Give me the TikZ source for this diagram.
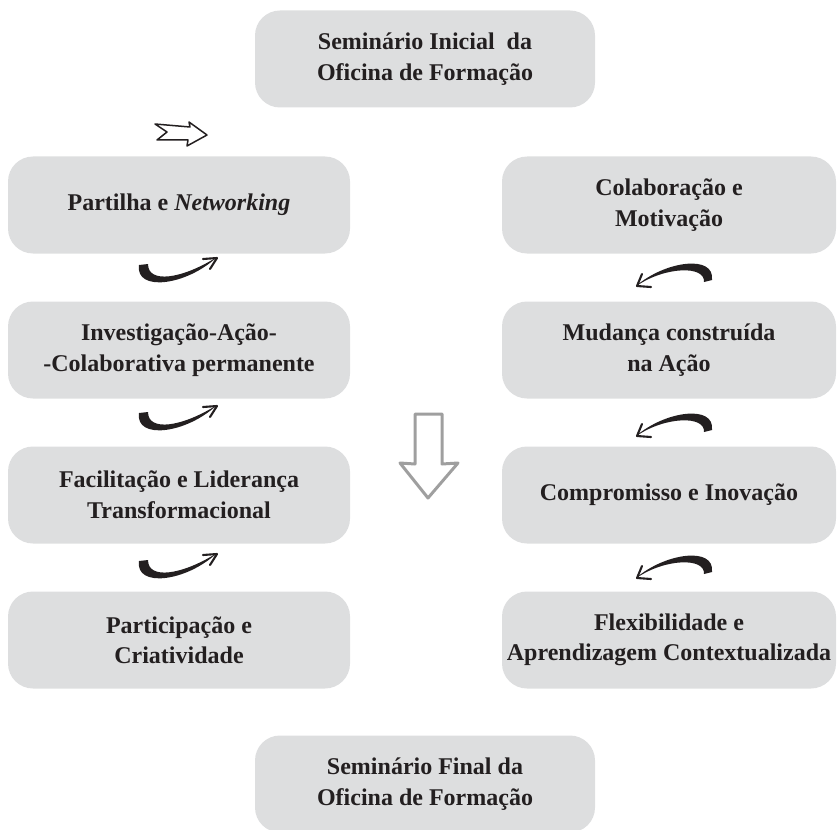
\documentclass[tikz,border=0pt]{standalone}
\usepackage{fontspec}
\setmainfont{Liberation Serif}
\usepackage{xcolor}
\usepackage{tikz}
\usetikzlibrary{positioning}
\definecolor{boxgray}{RGB}{221,222,223}
\definecolor{ink}{RGB}{35,31,32}
\tikzset{
  stage/.style={fill=boxgray, rounded corners=25pt, align=center, inner sep=0pt,
    minimum height=97pt, text=ink, font=\fontsize{24}{30.5}\selectfont\bfseries},
  leftstage/.style={stage, minimum width=342pt},
  rightstage/.style={stage, minimum width=334pt},
  headline/.style={draw=ink, line width=2.1pt, line cap=round, line join=round},
}

\begin{document}
\begin{tikzpicture}[x=1pt,y=-1pt]
    \useasboundingbox (0,0) rectangle (837,829);

    \node[stage, minimum width=340pt] (inicial) at (425,59) {Seminário Inicial \ da\\Oficina de Formação};

    \node[leftstage] (partilha) at (179,205) {Partilha e \textit{Networking}};
    \node[leftstage] (investigacao) at (179,350) {Investigação-Ação-\\-Colaborativa permanente};
    \node[leftstage] (facilitacao) at (179,495) {Facilitação e Liderança\\Transformacional};
    \node[leftstage] (participacao) at (179,640) {Participação e\\Criatividade};

    \node[rightstage] (colaboracao) at (669,205) {Colaboração e\\Motivação};
    \node[rightstage] (mudanca) at (669,350) {Mudança construída\\na Ação};
    \node[rightstage] (compromisso) at (669,495) {Compromisso e Inovação};
    \node[rightstage] (flexibilidade) at (669,640) {Flexibilidade e\\Aprendizagem Contextualizada};

    \node[stage, minimum width=340pt] (final) at (425,784) {Seminário Final da\\Oficina de Formação};

    % outline arrow at the top left
    \draw[ink, line width=1.5pt, line join=round] (155,124) -- (190,127) -- (189,122) -- (207,135)
        -- (187,146) -- (188,140) -- (157,140) -- (167,132) -- cycle;

    % curls going up on the left side
    \foreach \dy in {0,148,296} {
      \begin{scope}[shift={(0,\dy)}]
        \fill[ink] (139,265) .. controls (135,292) and (186,286) .. (217,257)
            .. controls (182,279) and (148,284) .. (148,264) -- cycle;
        \draw[headline] (203,259) -- (217,258) -- (210,269);
      \end{scope}
    }

    % curls going down on the right side
    \foreach \dy in {0,150,292} {
      \begin{scope}[shift={(0,\dy)}]
        \fill[ink] (636,286) .. controls (665,261) and (715,254) .. (712,280)
            -- (704,282) .. controls (705,265) and (665,267) .. (638,285) -- cycle;
        \draw[headline] (651,287) -- (637,286) -- (642,274);
      \end{scope}
    }

    % big arrow in the middle
    \draw[gray!75, line width=3pt, line join=round] (415,414) -- (442,414) -- (442,464) -- (458,463)
        -- (428,498) -- (400,463) -- (415,464) -- cycle;
\end{tikzpicture}
\end{document}
